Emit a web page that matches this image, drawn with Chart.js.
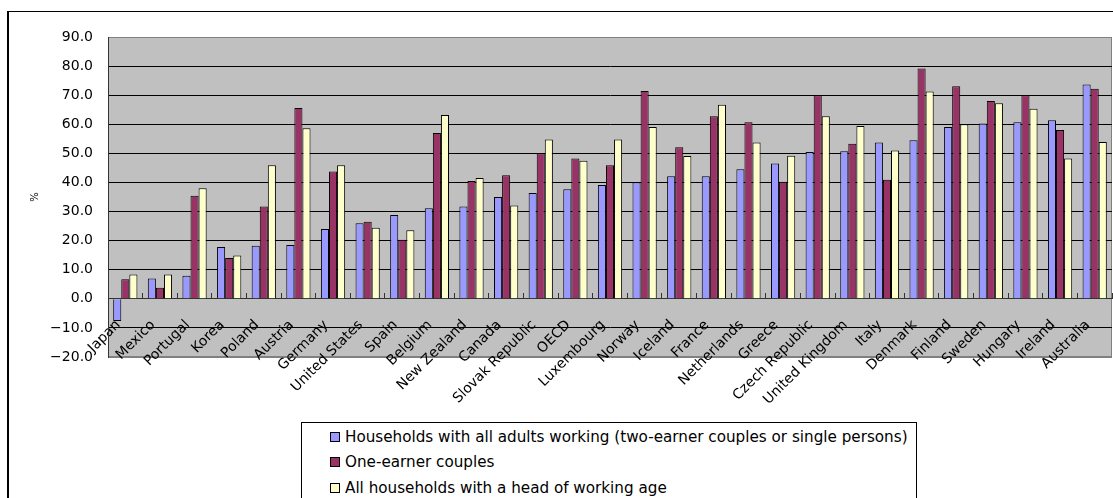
<!DOCTYPE html>
<html>
<head>
<meta charset="utf-8">
<script src="https://cdn.jsdelivr.net/npm/chart.js@4.4.0/dist/chart.umd.min.js"></script>
<style>
  body { margin: 0; background: #fff; overflow: hidden; }
  #frame { position: absolute; left: 7px; top: 11px; width: 1200px; height: 600px;
           border-top: 1px solid #000; border-left: 2px solid #000; }
  #wrap { position: absolute; left: 0; top: 0; width: 1113px; height: 498px; }
  #legend { position: absolute; left: 301px; top: 422px; width: 614px; height: 120px;
            border: 1px solid #000; background: #fff;
            font: 15.2px "DejaVu Sans", sans-serif; color: #000; }
  #legend .item { position: absolute; left: 28px; height: 20px; line-height: 20px; white-space: nowrap; }
  #legend .box { display: inline-block; width: 8px; height: 8px; border: 1px solid #000;
                 margin-right: 5px; vertical-align: middle; position: relative; top: -1px; }
</style>
</head>
<body>
<div id="frame"></div>
<div id="wrap"><canvas id="households" width="1113" height="498"></canvas></div>
<div id="legend"></div>
<script>
// countries, sorted by the two-earner value
var countries = ['Japan', 'Mexico', 'Portugal', 'Korea', 'Poland', 'Austria', 'Germany',
  'United States', 'Spain', 'Belgium', 'New Zealand', 'Canada', 'Slovak Republic', 'OECD',
  'Luxembourg', 'Norway', 'Iceland', 'France', 'Netherlands', 'Greece', 'Czech Republic',
  'United Kingdom', 'Italy', 'Denmark', 'Finland', 'Sweden', 'Hungary', 'Ireland', 'Australia'];

var allAdultsWorking = [-7.6, 7.0, 7.9, 17.8, 18.2, 18.5, 24.0, 26.0, 28.8, 31.1, 31.7, 35.0,
  36.4, 37.7, 39.1, 40.1, 42.1, 42.1, 44.5, 46.5, 50.5, 50.7, 53.7, 54.5, 59.1, 60.3, 60.7, 61.4, 73.7];

var oneEarnerCouples = [6.7, 3.8, 35.4, 14.0, 31.7, 65.6, 43.8, 26.5, 20.3, 57.0, 40.5, 42.5,
  50.0, 48.2, 45.9, 71.4, 52.1, 62.8, 60.7, 40.2, 70.0, 53.3, 40.9, 79.2, 73.1, 68.0, 70.0, 58.0, 72.2];

var allHouseholds = [8.4, 8.4, 38.0, 14.9, 45.9, 58.6, 45.9, 24.4, 23.6, 63.2, 41.5, 32.1,
  54.8, 47.5, 54.8, 59.1, 49.1, 66.7, 53.7, 49.2, 62.8, 59.4, 51.0, 71.3, 60.0, 67.2, 65.3, 48.2, 53.9];

var seriesNames = ['Households with all adults working (two-earner couples or single persons)',
  'One-earner couples', 'All households with a head of working age'];
var seriesColors = ['#9999FF', '#993366', '#FFFFCC'];

var yMin = -20, yMax = 90, yStep = 10;

var textFont = "'DejaVu Sans', sans-serif";

// grey plot area with a thin outline
var plotArea = {
  id: 'plotArea',
  beforeDraw: function(chart) {
    var a = chart.chartArea, ctx = chart.ctx;
    ctx.save();
    ctx.fillStyle = '#C0C0C0';
    ctx.fillRect(a.left, a.top, a.right - a.left, a.bottom - a.top);
    ctx.strokeStyle = '#808080';
    ctx.lineWidth = 1;
    ctx.strokeRect(a.left + 0.5, a.top + 0.5, a.right - a.left - 1, a.bottom - a.top - 1);
    ctx.restore();
  }
};

var values = [allAdultsWorking, oneEarnerCouples, allHouseholds];
var datasets = [];
for (var i = 0; i < values.length; i++) {
  datasets.push({
    label: seriesNames[i],
    data: values[i],
    backgroundColor: seriesColors[i],
    borderColor: '#000',
    borderWidth: 1,
    barPercentage: 1.0,
    categoryPercentage: 0.7
  });
}

var ctx = document.getElementById('households').getContext('2d');
var chart = new Chart(ctx, {
  type: 'bar',
  data: { labels: countries, datasets: datasets },
  options: {
    responsive: false,
    animation: false,
    layout: { padding: { top: 37, right: 1, bottom: 141, left: 0 } },
    plugins: {
      legend: { display: false },
      tooltip: { enabled: false }
    },
    scales: {
      x: {
        position: { y: 0 },
        // rotated names must not squeeze the plot area
        afterFit: function(scale) { scale.paddingLeft = 0; scale.paddingRight = 0; },
        grid: { offset: true, drawOnChartArea: false, drawTicks: true, tickLength: -6, color: '#333' },
        border: { display: true, color: '#333' },
        ticks: {
          autoSkip: false, maxRotation: 45, minRotation: 45, padding: 24, labelOffset: -7,
          color: '#000', font: { family: textFont, size: 14 }
        }
      },
      y: {
        min: yMin,
        max: yMax,
        afterFit: function(scale) { scale.width = 108; },
        ticks: {
          stepSize: yStep,
          padding: 15,
          color: '#000',
          font: { family: textFont, size: 14 },
          callback: function(v) { return (v < 0 ? '\u2212' : '') + Math.abs(v).toFixed(1); }
        },
        grid: {
          drawTicks: false,
          color: function(c) {
            return (c.tick && (c.tick.value === yMax || c.tick.value === yMin)) ? '#808080' : '#000';
          }
        },
        border: { color: '#333' },
        title: {
          display: true, text: '%', color: '#000',
          font: { family: textFont, size: 10 },
          padding: { top: 29, bottom: 0 }
        }
      }
    }
  },
  plugins: [plotArea]
});

// legend in a bordered box, one series per row
var legend = document.getElementById('legend');
var rowTops = [4, 29, 55];
chart.data.datasets.forEach(function(ds, i) {
  var row = document.createElement('div');
  row.className = 'item';
  row.style.top = rowTops[i] + 'px';
  var box = document.createElement('span');
  box.className = 'box';
  box.style.background = ds.backgroundColor;
  row.appendChild(box);
  row.appendChild(document.createTextNode(ds.label));
  legend.appendChild(row);
});
</script>
</body>
</html>
